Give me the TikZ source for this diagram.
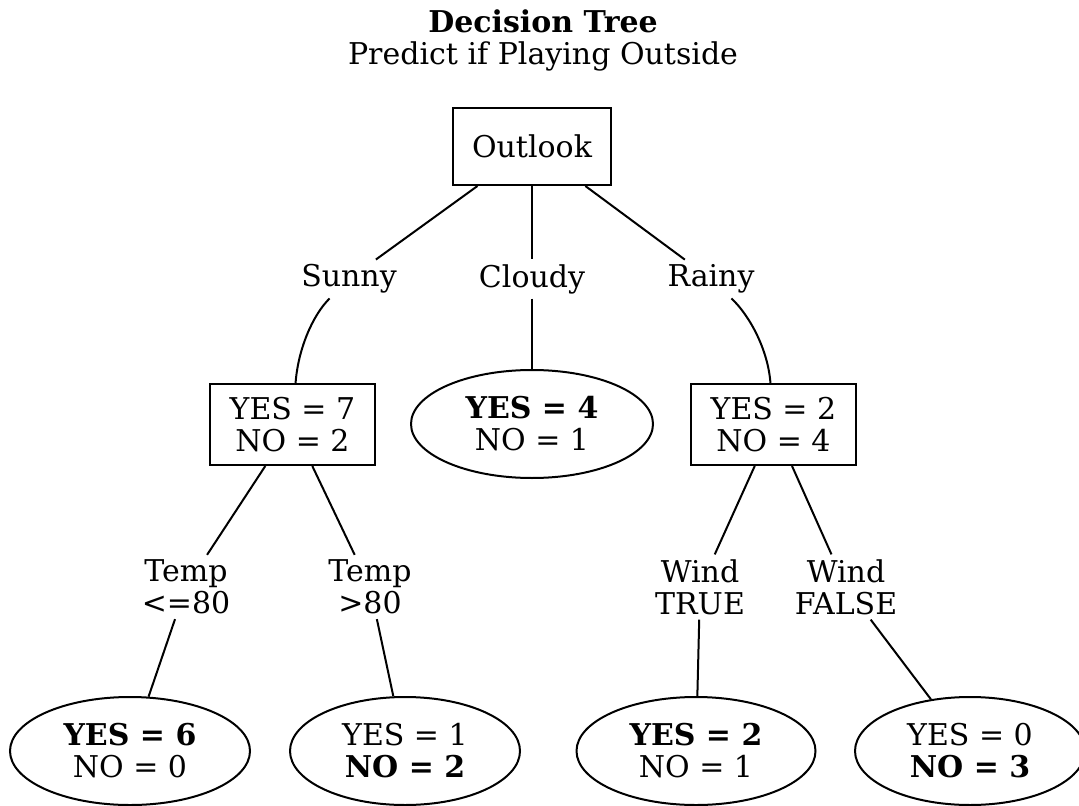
\documentclass[tikz,border=0pt]{standalone}
\usepackage{fontspec}
\setmainfont{DejaVu Serif}
\usetikzlibrary{shapes.geometric}

\begin{document}
\begin{tikzpicture}[x=0.5pt, y=-0.5pt, line width=1pt,
	every node/.style={font=\fontsize{15}{16}\selectfont, align=center},
	split/.style={draw, rectangle, inner sep=0pt},
	leaf/.style={draw, ellipse, inner sep=0pt, minimum height=54pt},
	branch/.style={inner sep=2pt}]
	\useasboundingbox (0,0) rectangle (1079,806);
	\node (title) at (543,40) {\textbf{Decision Tree}\\Predict if Playing Outside};
	% root and first split
	\node[split, minimum width=79pt, minimum height=38.5pt] (outlook) at (532,146.5) {Outlook};
	\node[branch] (sunny) at (349,279) {Sunny};
	\node[branch] (cloudy) at (532,279) {Cloudy};
	\node[branch] (rainy) at (711,279) {Rainy};
	\node[split, minimum width=82.5pt, minimum height=40.5pt] (sunnybox) at (292.5,424.5) {YES = 7\\NO = 2};
	\node[leaf, minimum width=121pt] (cloudyleaf) at (532,424) {\textbf{YES = 4}\\NO = 1};
	\node[split, minimum width=82.5pt, minimum height=40.5pt] (rainybox) at (773.5,424.5) {YES = 2\\NO = 4};
	% second level
	\node[branch] (templow) at (186,587) {Temp\\<=80};
	\node[branch] (temphigh) at (370,587) {Temp\\>80};
	\node[branch] (windtrue) at (700,587) {Wind\\TRUE};
	\node[branch] (windfalse) at (846,587) {Wind\\FALSE};
	\node[leaf, minimum width=120pt] (leafa) at (130,751) {\textbf{YES = 6}\\NO = 0};
	\node[leaf, minimum width=115pt] (leafb) at (405,751) {YES = 1\\\textbf{NO = 2}};
	\node[leaf, minimum width=119.5pt] (leafc) at (696,751) {\textbf{YES = 2}\\NO = 1};
	\node[leaf, minimum width=115pt] (leafd) at (970,751) {YES = 0\\\textbf{NO = 3}};
	% edges
	\draw (outlook) -- (sunny);
	\draw (outlook) -- (cloudy);
	\draw (outlook) -- (rainy);
	\draw (sunny) .. controls (312,316) and (298,350) .. (sunnybox);
	\draw (cloudy) -- (cloudyleaf);
	\draw (rainy) .. controls (750,316) and (768,350) .. (rainybox);
	\draw (sunnybox) -- (templow);
	\draw (sunnybox) -- (temphigh);
	\draw (rainybox) -- (windtrue);
	\draw (rainybox) -- (windfalse);
	\draw (templow) -- (leafa);
	\draw (temphigh) -- (leafb);
	\draw (windtrue) -- (leafc);
	\draw (windfalse) -- (leafd);
\end{tikzpicture}
\end{document}
